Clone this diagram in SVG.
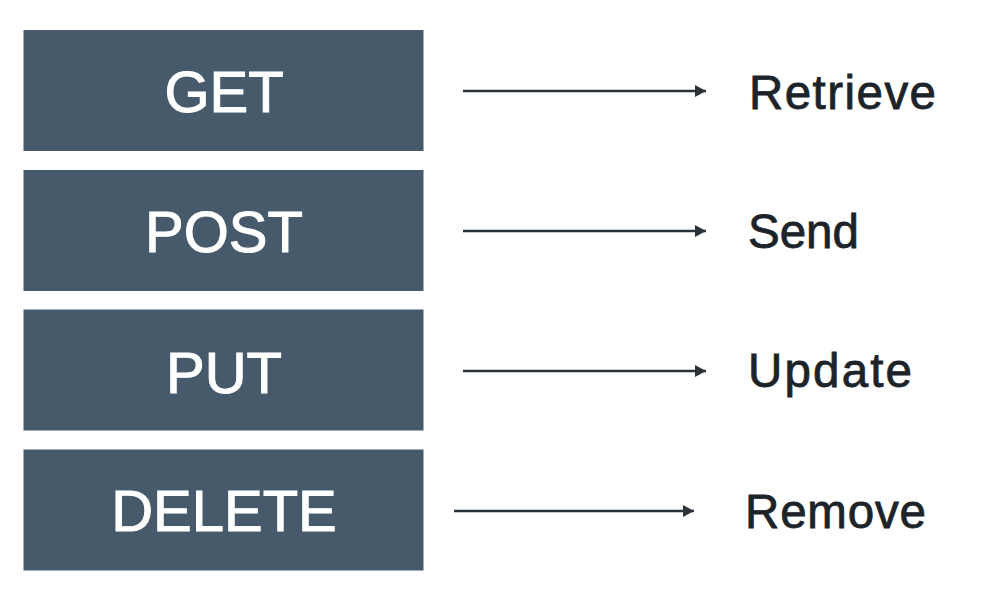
<svg xmlns="http://www.w3.org/2000/svg" width="997" height="589" viewBox="0 0 997 589">
<style>
.box{fill:#465a6b;}
.m{font-family:"Liberation Sans",Arial,sans-serif;font-size:58px;fill:#ffffff;stroke:#ffffff;stroke-width:1;text-anchor:middle;}
.lbl{font-family:"Liberation Sans",Arial,sans-serif;font-size:47.5px;fill:#1c2329;stroke:#1c2329;stroke-width:0.8;}
.conn{stroke:#2b3238;stroke-width:2.6;fill:none;marker-end:url(#ah);}
</style>
<defs>
<marker id="ah" viewBox="0 0 11 12" refX="11" refY="6" markerWidth="11" markerHeight="12" markerUnits="userSpaceOnUse" orient="auto">
<path d="M0,0 L11,6 L0,12 z" fill="#2b3238"/>
</marker>
</defs>
<rect width="997" height="589" fill="#ffffff"/>
<g id="get"><rect class="box" x="23.5" y="30" width="400" height="121"/><text class="m" x="224" y="112">GET</text></g>
<g id="post"><rect class="box" x="23.5" y="170" width="400" height="121"/><text class="m" x="224" y="252">POST</text></g>
<g id="put"><rect class="box" x="23.5" y="309.5" width="400" height="121"/><text class="m" x="224" y="392.5">PUT</text></g>
<g id="delete"><rect class="box" x="23.5" y="449.5" width="400" height="121"/><text class="m" x="224" y="530.5">DELETE</text></g>
<g id="retrieve"><text class="lbl" x="749" y="109" textLength="187" lengthAdjust="spacing">Retrieve</text></g>
<g id="send"><text class="lbl" x="748" y="247.5">Send</text></g>
<g id="update"><text class="lbl" x="748" y="387" textLength="164" lengthAdjust="spacing">Update</text></g>
<g id="remove"><text class="lbl" x="745" y="528" textLength="181" lengthAdjust="spacing">Remove</text></g>
<g id="connectors">
<line class="conn" x1="463" y1="91" x2="706" y2="91"/>
<line class="conn" x1="463" y1="231" x2="706" y2="231"/>
<line class="conn" x1="463" y1="371" x2="706" y2="371"/>
<line class="conn" x1="454" y1="511" x2="694" y2="511"/>
</g>
</svg>
